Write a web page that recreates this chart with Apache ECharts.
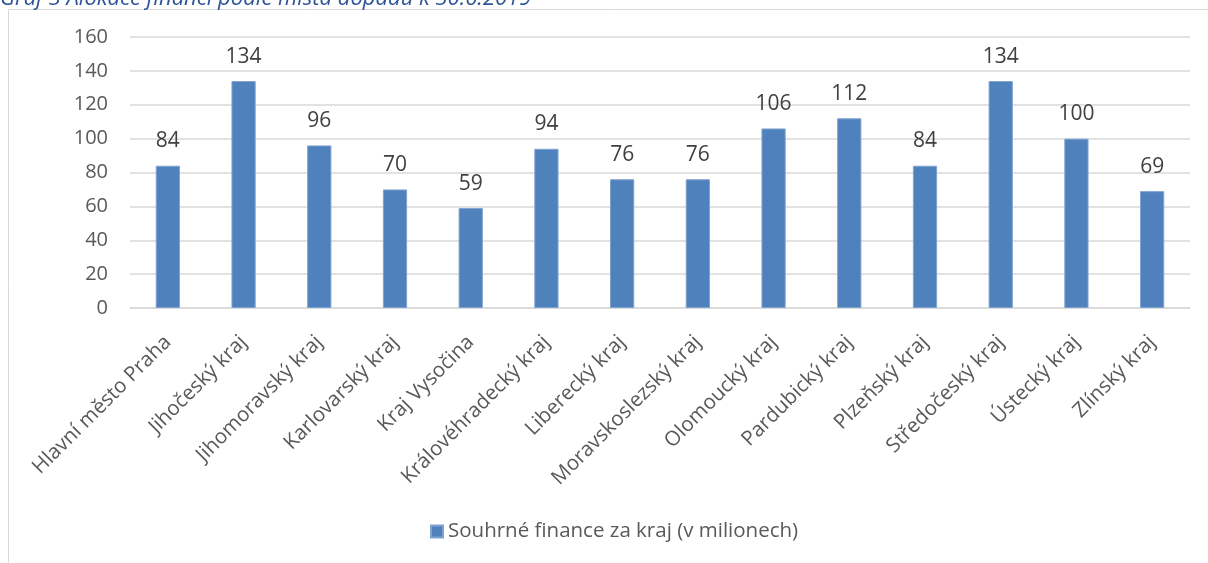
<!DOCTYPE html>
<html><head><meta charset="utf-8">
<script src="https://cdn.jsdelivr.net/npm/echarts@6/dist/echarts.min.js"></script>
<style>html,body{margin:0;padding:0;background:#fff}#c{width:1208px;height:563px}</style>
</head><body><div id="c"></div>
<script>
const categories = ["Hlavní město Praha","Jihočeský kraj","Jihomoravský kraj","Karlovarský kraj","Kraj Vysočina","Královéhradecký kraj","Liberecký kraj","Moravskoslezský kraj","Olomoucký kraj","Pardubický kraj","Plzeňský kraj","Středočeský kraj","Ústecký kraj","Zlínský kraj"];
const values = [84,134,96,70,59,94,76,76,106,112,84,134,100,69];
const seriesName = "Souhrné finance za kraj (v milionech)";
const titleText = "Graf 3 Alokace financí podle místa dopadu k 30.6.2019";
const yTicks = {min:0, max:160, interval:20};
const font = "'Open Sans', 'Noto Sans', sans-serif";
const chart = echarts.init(document.getElementById('c'));
chart.setOption({
  animation:false,
  graphic:[
    {type:'rect', shape:{x:8.5,y:9.5,width:1300,height:700}, style:{fill:'none',stroke:'#d9d9d9',lineWidth:1}, z:0},
    {type:'text', x:0, y:-12, style:{text:titleText, font:'italic 22px '+font, fill:'#2F5597'}, z:10}
  ],
  grid:{left:130,right:18,top:37,bottom:255},
  legend:{bottom:16,left:425,itemWidth:12,itemHeight:12,itemGap:5,icon:'rect',
    textStyle:{fontFamily:font,fontSize:20.5,color:'#595959'}},
  xAxis:{type:'category',data:categories,
    axisLine:{lineStyle:{color:'#d9d9d9',width:1.5}},axisTick:{show:false},
    axisLabel:{rotate:45,interval:0,fontFamily:font,fontSize:20.5,color:'#595959',margin:31}},
  yAxis:{type:'value',min:yTicks.min,max:yTicks.max,interval:yTicks.interval,
    axisLine:{show:false},axisTick:{show:false},
    splitLine:{lineStyle:{color:'#d9d9d9',width:1.5}},
    axisLabel:{fontFamily:font,fontSize:20,color:'#595959',margin:22}},
  series:[{name:seriesName,type:'bar',data:values,barWidth:'32%',
    itemStyle:{color:'#4F81BD',borderColor:'#7FA3D1',borderWidth:1},
    label:{show:true,position:'top',distance:14,fontFamily:font,fontSize:21,color:'#404040'}}]
});
</script></body></html>
